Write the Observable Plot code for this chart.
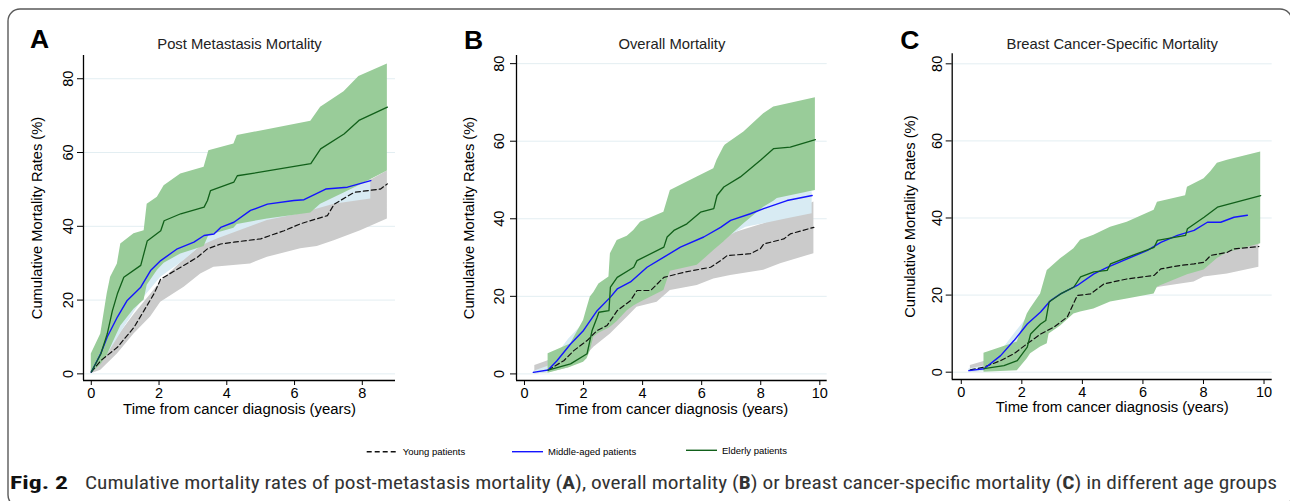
<!DOCTYPE html>
<html><head><meta charset="utf-8">
<script src="https://cdn.jsdelivr.net/npm/d3@7"></script>
<script src="https://cdn.jsdelivr.net/npm/@observablehq/plot@0.6"></script>
<style>
body{margin:0;background:#fff;}
#root{position:relative;width:1290px;height:501px;overflow:hidden;background:#fff;font-family:"Liberation Sans",Arial,sans-serif;}
#root > svg{position:absolute;}
</style></head><body><div id="root"></div>
<script>
// ---------- labels ----------
const groups = ["Young patients", "Middle-aged patients", "Elderly patients"];
const panelTitles = ["Post Metastasis Mortality", "Overall Mortality", "Breast Cancer-Specific Mortality"];
const panelLetters = ["A", "B", "C"];
const yLabel = "Cumulative Mortality Rates (%)";
const xLabel = "Time from cancer diagnosis (years)";
const yTicks = [0, 20, 40, 60, 80];
const xTicksA = [0, 2, 4, 6, 8];
const xTicksBC = [0, 2, 4, 6, 8, 10];

// ---------- Panel A: post metastasis mortality ----------
const A_yng_t  = [0, 0.28, 0.77, 1.26, 1.56, 1.85, 2.05, 2.64, 3.13, 3.43, 3.82, 4.21, 5.0, 5.69, 6.18, 6.97, 7.17, 7.76, 8.54, 8.74];
const A_yng_y  = [0.5, 3.6, 7.2, 12.6, 17.2, 21.7, 25.7, 28.9, 31.6, 33.9, 35.2, 35.7, 36.6, 38.8, 40.7, 42.9, 46, 49.2, 50.1, 51.5];
const A_yng_bt = [0, 0.28, 0.77, 1.26, 1.75, 2.05, 2.74, 3.23, 3.62, 4.7, 5.2, 6.18, 6.67, 7.17, 7.95, 8.74];
const A_yng_lo = [0, 1, 5.4, 10.8, 15.4, 19.4, 23.5, 27.1, 28.9, 29.8, 31.6, 33.9, 34.5, 36.1, 38.8, 42];
const A_yng_hi = [1, 5, 10, 16, 21.5, 25, 31, 34.5, 37, 40, 42.5, 45, 46, 47, 51, 55];

const A_mid_t  = [0, 0.28, 0.47, 0.77, 1.06, 1.46, 1.75, 2.05, 2.54, 3.03, 3.33, 3.62, 3.82, 4.21, 4.7, 5.2, 5.98, 6.28, 6.92, 7.56, 8.25];
const A_mid_y  = [0.5, 5.5, 10, 15.4, 19.9, 23.5, 28, 30.7, 33.9, 35.7, 37.5, 37.9, 39.7, 41.1, 44.3, 46, 47, 47.2, 50.1, 50.6, 52.4];
const A_mid_bt = [0, 0.5, 1.0, 1.56, 2.05, 2.74, 3.23, 3.7, 4.3, 5.2, 6.18, 7.17, 8.25];
const A_mid_lo = [0, 5.5, 13, 20.8, 26.2, 30.7, 34.6, 36.5, 38.5, 41.6, 43.4, 46, 47.4];
const A_mid_hi = [1, 11, 22, 28, 34.5, 37.5, 40, 42, 44.5, 49, 50.5, 52.5, 53.3];

const A_eld_t  = [0, 0.28, 0.47, 0.62, 0.77, 0.96, 1.46, 1.65, 2.05, 2.15, 2.64, 3.33, 3.43, 3.52, 4.21, 4.31, 5.2, 6.48, 6.77, 7.46, 7.9, 8.74];
const A_eld_y  = [0.5, 5.4, 10.8, 17, 21.7, 26.2, 29.4, 36, 38.8, 41.5, 43.4, 45.2, 47, 49.7, 52, 53.7, 55, 57, 61, 65, 68.7, 72.3];
const A_eld_bt = [0, 0.28, 0.47, 0.57, 0.77, 0.87, 1.26, 1.56, 1.65, 1.95, 2.15, 2.64, 3.33, 3.47, 4.21, 4.31, 5.2, 6.48, 6.77, 7.46, 7.9, 8.74];
const A_eld_lo = [0, 2.5, 5, 7, 11, 13, 17.5, 20, 24, 28, 30, 32.5, 34.5, 37.5, 39.5, 40.5, 42, 43.6, 46, 49, 51, 55];
const A_eld_hi = [5.4, 10.8, 21.7, 26.2, 29.8, 35.2, 38, 38.8, 46, 47.9, 51, 54.2, 56, 60.5, 62.3, 64.6, 66.2, 68.5, 72.3, 76.5, 80.6, 84];

// ---------- Panel B: overall mortality ----------
const B_yng_t  = [0.8, 1.33, 1.67, 2.12, 2.46, 2.8, 3.14, 3.59, 3.81, 4.27, 4.72, 5.4, 6.3, 6.64, 6.86, 7.65, 7.99, 8.1, 8.78, 9.0, 9.8];
const B_yng_y  = [1, 3.4, 6, 8.6, 11.2, 12.5, 16.3, 18.9, 21.5, 21.5, 24.9, 26.2, 27.5, 29.2, 30.5, 31, 32.3, 33.5, 34.8, 36.1, 37.8];
const B_yng_bt = [0.35, 0.8, 1.5, 2.0, 2.35, 2.91, 3.48, 3.81, 4.49, 4.94, 5.85, 6.41, 6.98, 8.1, 8.67, 9.8];
const B_yng_lo = [0, 0.3, 1.5, 4, 6.9, 10.3, 14.6, 17.2, 18.5, 21.5, 22.8, 24.5, 25.4, 26.7, 28.4, 31];
const B_yng_hi = [2.2, 3.4, 7, 11, 13, 14.5, 19, 21.5, 25, 27.5, 30.1, 33, 36.1, 38.7, 40.5, 44.3];

const B_mid_t  = [0.3, 0.8, 1.1, 1.56, 2.0, 2.46, 2.91, 3.14, 3.59, 4.15, 4.72, 5.28, 6.07, 6.64, 6.98, 7.65, 8.1, 8.89, 9.74];
const B_mid_y  = [0.4, 1, 3.4, 7.7, 11.2, 16.3, 19.8, 21.9, 23.7, 27.5, 30.1, 32.7, 35.3, 37.8, 39.6, 41.3, 42.6, 44.7, 46];
const B_mid_bt = [0.3, 0.8, 1.5, 2.0, 2.5, 3.0, 4.0, 5.0, 6.0, 6.8, 7.5, 8.1, 8.9, 9.74];
const B_mid_lo = [0, 0.3, 4, 8, 12, 16, 22, 27, 31.5, 35, 37.8, 38.7, 40, 41.3];
const B_mid_hi = [0.6, 2, 9, 13, 18.5, 23.5, 31, 37, 40, 42.5, 45, 46, 46.7, 47];

const B_eld_t  = [0.8, 1.56, 2.12, 2.29, 2.46, 2.52, 2.86, 2.91, 3.14, 3.7, 3.81, 4.72, 4.83, 5.06, 5.5, 5.96, 6.41, 6.52, 6.75, 7.31, 7.99, 8.44, 9.0, 9.85];
const B_eld_y  = [1, 2.6, 5.2, 11.2, 14.6, 15.9, 16.3, 22.4, 24.9, 27.5, 29.2, 32.7, 35.3, 37, 38.7, 41.7, 42.6, 46, 48.2, 50.8, 55.1, 58.1, 58.5, 60.4];
const B_eld_bt = [0.8, 1.56, 2.0, 2.12, 2.23, 2.35, 2.52, 2.86, 2.91, 3.14, 3.48, 3.7, 3.93, 4.72, 4.94, 5.85, 6.41, 6.52, 6.75, 6.8, 7.43, 8.1, 8.44, 8.56, 9.85];
const B_eld_lo = [0.2, 1.7, 3, 3.9, 6, 9.5, 10.5, 11.8, 12, 13.5, 16.3, 17.5, 18.5, 21.5, 26.5, 28, 31.8, 32.5, 34, 34.4, 38.7, 43, 44.5, 45.2, 47.3];
const B_eld_hi = [5.2, 7.7, 13.8, 17, 19.8, 21, 23.2, 25, 31, 34.4, 35.5, 37, 39.1, 41.7, 47.3, 50.8, 52.9, 55.1, 58.5, 59, 62.4, 67.1, 68.8, 69, 71.2];

// ---------- Panel C: breast cancer-specific mortality ----------
const C_yng_t  = [0.3, 0.75, 1.3, 1.74, 2.18, 2.62, 3.06, 3.5, 3.83, 4.27, 4.71, 5.48, 6.37, 6.59, 7.25, 7.69, 8.02, 8.24, 8.79, 9.01, 9.83];
const C_yng_y  = [0.6, 1.3, 3, 4.8, 7.4, 9.9, 11.7, 14.3, 19.9, 20.3, 22.9, 24.2, 25.1, 26.8, 27.7, 28.1, 28.5, 30.3, 31.1, 32, 32.6];
const C_yng_bt = [0.3, 0.75, 1.3, 1.74, 2.18, 2.62, 2.84, 3.28, 3.72, 4.38, 4.6, 4.93, 5.48, 6.59, 7.69, 8.02, 8.79, 9.83];
const C_yng_lo = [0, 0.2, 1, 2.5, 4.5, 7, 9.9, 12.5, 15.6, 17.3, 17.7, 19, 20, 22.1, 23.4, 24.7, 25.5, 27.2];
const C_yng_hi = [1.7, 2.8, 5.5, 8, 11, 14, 15, 18, 23, 26, 27, 28, 29, 31, 32.5, 33.5, 35, 37];

const C_mid_t  = [0.25, 0.75, 1.3, 1.74, 2.18, 2.62, 2.95, 3.28, 3.83, 4.38, 4.82, 5.48, 6.15, 6.59, 7.14, 7.69, 8.13, 8.57, 9.01, 9.45];
const C_mid_y  = [0.4, 0.9, 4.3, 8.2, 12.5, 15.6, 18.6, 20.3, 22.5, 25.5, 27.2, 29.4, 31.6, 33.7, 35.5, 36.8, 38.9, 38.9, 40.2, 40.7];
const C_mid_bt = [0.25, 0.75, 1.3, 1.74, 2.18, 2.62, 3.28, 4.38, 5.48, 6.59, 7.69, 8.57, 9.45];
const C_mid_lo = [0, 0.2, 2.8, 6, 10, 13, 17.5, 22, 26, 30, 32.5, 34.5, 36];
const C_mid_hi = [0.8, 1.6, 5.3, 9.8, 14.2, 18, 23, 29, 33, 37.5, 41, 43.5, 45.5];

const C_eld_t  = [0.75, 1.41, 1.85, 2.18, 2.29, 2.62, 2.79, 2.9, 3.28, 3.72, 3.94, 4.38, 4.82, 4.93, 5.48, 6.37, 6.48, 7.41, 7.47, 8.02, 8.46, 9.89];
const C_eld_y  = [0.9, 1.7, 3, 6.5, 9.9, 12.5, 13.4, 18.2, 20.3, 22.1, 24.7, 26, 26.4, 28.1, 29.8, 32.4, 34.2, 35.5, 37.2, 40.2, 42.8, 45.8];
const C_eld_bt = [0.75, 1.85, 2.18, 2.29, 2.62, 2.84, 2.9, 3.28, 3.72, 3.94, 4.38, 4.93, 5.48, 6.37, 6.48, 7.41, 7.47, 8.02, 8.24, 8.46, 8.79, 9.89];
const C_eld_lo = [0, 0.4, 3.5, 4.8, 6.5, 7.4, 9.9, 12, 15.1, 15.6, 16.4, 18.2, 19, 20.3, 22.1, 25.1, 25.3, 26.5, 28, 29.5, 31, 33.3];
const C_eld_hi = [4.9, 7.8, 15.1, 16.5, 20.3, 26.4, 26.8, 29.4, 32, 34.2, 35.5, 37.6, 38.9, 42, 44.1, 45.8, 48, 50.2, 52, 54.2, 55, 57.1];

// ---------- styles ----------
const bandFill = ["#cbcbcb", "#d8ebf3", "#99cc99"];
const lineStroke = ["#111111", "#1414ff", "#11601a"];
const lineDash = ["5,3", null, null];
const lineWidth = [1.2, 1.4, 1.3];
const FONT = "'Liberation Sans', Arial, sans-serif";

function panel(cfg) {
  const series = cfg.series; // [young, middle, elderly]
  const marks = [
    Plot.ruleY(yTicks, {stroke: "#e3eef2", strokeWidth: 1})
  ];
  series.forEach((s, i) => {
    marks.push(Plot.areaY(s.bt, {x: s.bt, y1: s.lo, y2: s.hi, fill: bandFill[i], fillOpacity: 1}));
  });
  series.forEach((s, i) => {
    marks.push(Plot.line(s.t, {x: s.t, y: s.y, stroke: lineStroke[i], strokeWidth: lineWidth[i], strokeDasharray: lineDash[i]}));
  });
  marks.push(
    Plot.ruleX([cfg.xd[0]], {stroke: "#000", strokeWidth: 1.3}),
    Plot.ruleY([cfg.yd[0]], {stroke: "#000", strokeWidth: 1.3}),
    Plot.axisX({ticks: cfg.xt, tickSize: 5, tickPadding: 2, label: null, fontSize: 14.5, anchor: "bottom"}),
    Plot.axisY({ticks: yTicks, tickSize: 6, tickFormat: () => "", label: null, anchor: "left"}),
    Plot.text(yTicks, {y: d => d, text: d => String(d), frameAnchor: "left", dx: cfg.tickDx, rotate: -90, fontSize: 14.5, textAnchor: "middle", lineAnchor: "middle"}),
    Plot.text([yLabel], {text: d => d, frameAnchor: "left", dx: cfg.ylDx, rotate: -90, fontSize: 14.7, textAnchor: "middle", lineAnchor: "middle"}),
    Plot.text([xLabel], {text: d => d, frameAnchor: "bottom", dy: cfg.xlDy, fontSize: 14.9, textAnchor: "middle", lineAnchor: "middle"}),
    Plot.text([cfg.title], {text: d => d, frameAnchor: "top", dy: cfg.titleDy, fontSize: 14.8, fill: "#222", textAnchor: "middle", lineAnchor: "middle"}),
    Plot.text([cfg.letter], {text: d => d, frameAnchor: "top-left", dx: cfg.letDx, dy: cfg.letDy, fontSize: 26.5, fontWeight: "bold", fill: "#000", textAnchor: "middle", lineAnchor: "middle"})
  );
  const svg = Plot.plot({
    width: cfg.w, height: 420,
    marginLeft: cfg.ml, marginRight: cfg.mr, marginTop: cfg.mt, marginBottom: cfg.mb,
    x: {type: "linear", domain: cfg.xd},
    y: {type: "linear", domain: cfg.yd},
    style: {fontFamily: FONT, color: "#000", background: "transparent", overflow: "visible"},
    marks
  });
  svg.style.left = cfg.left + "px";
  svg.style.top = "0px";
  return svg;
}

const root = document.getElementById("root");

// frame
const ns = "http://www.w3.org/2000/svg";
const frame = document.createElementNS(ns, "svg");
frame.setAttribute("width", 1290); frame.setAttribute("height", 501);
frame.style.left = "0px"; frame.style.top = "0px";
frame.innerHTML = `<rect x="8" y="9" width="1284" height="498" rx="12" ry="12" fill="none" stroke="#5a5a5a" stroke-width="1.4"/>`;
root.appendChild(frame);

root.appendChild(panel({
  left: 0, w: 410, ml: 83, mr: 15, mt: 55, mb: 40,
  xd: [-0.23, 8.98], yd: [-1.8, 86.3], xt: xTicksA,
  tickDx: -15, ylDx: -46, xlDy: 28.5, titleDy: -11, letDx: -44, letDy: -15.5,
  title: panelTitles[0], letter: panelLetters[0],
  series: [
    {t: A_yng_t, y: A_yng_y, bt: A_yng_bt, lo: A_yng_lo, hi: A_yng_hi},
    {t: A_mid_t, y: A_mid_y, bt: A_mid_bt, lo: A_mid_lo, hi: A_mid_hi},
    {t: A_eld_t, y: A_eld_y, bt: A_eld_bt, lo: A_eld_lo, hi: A_eld_hi}
  ]
}));
root.appendChild(panel({
  left: 430, w: 410, ml: 86, mr: 13.3, mt: 55, mb: 40,
  xd: [-0.27, 10.25], yd: [-1.7, 82.1], xt: xTicksBC,
  tickDx: -17, ylDx: -47.7, xlDy: 28.5, titleDy: -11, letDx: -43, letDy: -15.3,
  title: panelTitles[1], letter: panelLetters[1],
  series: [
    {t: B_yng_t, y: B_yng_y, bt: B_yng_bt, lo: B_yng_lo, hi: B_yng_hi},
    {t: B_mid_t, y: B_mid_y, bt: B_mid_bt, lo: B_mid_lo, hi: B_mid_hi},
    {t: B_eld_t, y: B_eld_y, bt: B_eld_bt, lo: B_eld_lo, hi: B_eld_hi}
  ]
}));
root.appendChild(panel({
  left: 860, w: 430, ml: 91.7, mr: 18.3, mt: 53.3, mb: 41,
  xd: [-0.3, 10.27], yd: [-1.9, 82.6], xt: xTicksBC,
  tickDx: -14.4, ylDx: -42.4, xlDy: 28, titleDy: -10, letDx: -42.4, letDy: -12.8,
  title: panelTitles[2], letter: panelLetters[2],
  series: [
    {t: C_yng_t, y: C_yng_y, bt: C_yng_bt, lo: C_yng_lo, hi: C_yng_hi},
    {t: C_mid_t, y: C_mid_y, bt: C_mid_bt, lo: C_mid_lo, hi: C_mid_hi},
    {t: C_eld_t, y: C_eld_y, bt: C_eld_bt, lo: C_eld_lo, hi: C_eld_hi}
  ]
}));

// legend
const legendX = [366.7, 512, 686];
const legendY = [451.7, 451.7, 450.3];
const leg = document.createElementNS(ns, "svg");
leg.setAttribute("width", 1290); leg.setAttribute("height", 501);
leg.style.left = "0px"; leg.style.top = "0px";
let lh = "";
groups.forEach((g, i) => {
  const x = legendX[i], y = legendY[i];
  lh += `<line x1="${x}" x2="${x + 31}" y1="${y}" y2="${y}" stroke="${lineStroke[i]}" stroke-width="1.4" ${lineDash[i] ? `stroke-dasharray="${lineDash[i]}"` : ""}/>`;
  lh += `<text x="${x + 36}" y="${y + 3.5}" font-family="${FONT}" font-size="9.5" fill="#000">${g}</text>`;
});
leg.innerHTML = lh;
root.appendChild(leg);

// caption
const cap = document.createElementNS(ns, "svg");
cap.setAttribute("width", 1290); cap.setAttribute("height", 501);
cap.style.left = "0px"; cap.style.top = "0px";
const CF = "'Liberation Sans Narrow', 'Roboto Condensed', 'Open Sans', sans-serif";
cap.innerHTML =
  `<text x="10" y="489" font-family="${CF}" font-size="19" font-weight="bold" fill="#111" textLength="58" lengthAdjust="spacingAndGlyphs">Fig. 2</text>` +
  `<text x="85" y="489" font-family="${CF}" font-size="19" fill="#333" textLength="1192" lengthAdjust="spacingAndGlyphs">Cumulative mortality rates of post-metastasis mortality (<tspan font-weight="bold">A</tspan>), overall mortality (<tspan font-weight="bold">B</tspan>) or breast cancer-specific mortality (<tspan font-weight="bold">C</tspan>) in different age groups</text>`;
root.appendChild(cap);
</script></body></html>
